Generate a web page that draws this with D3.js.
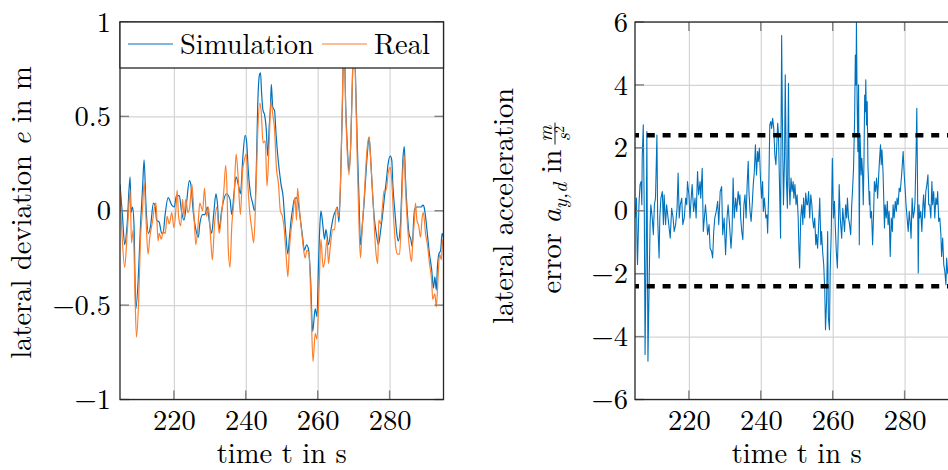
<!DOCTYPE html>
<html>
<head>
<meta charset="utf-8">
<script src="https://cdn.jsdelivr.net/npm/d3@7"></script>
<style>
  body { margin: 0; background: #fff; }
</style>
</head>
<body>
<div id="chart"></div>
<script>
// lateral deviation, simulation vs real (left panel)
const simT = [205.0,205.7,206.3,207.0,207.8,208.1,208.5,208.9,209.4,210.1,210.7,211.3,211.7,212.2,212.9,213.5,214.3,214.8,215.2,215.9,216.6,217.0,217.5,218.4,219.4,220.1,220.7,221.5,222.1,222.8,223.5,224.3,224.7,225.4,226.1,226.8,227.2,228.0,228.6,229.3,229.8,230.5,231.1,231.7,232.1,232.6,233.2,233.9,234.6,
  235.6,236.1,236.7,237.3,238.0,238.5,239.2,239.8,240.2,240.7,241.3,241.9,242.4,242.9,243.3,243.8,244.1,244.4,244.8,245.2,245.7,246.1,246.5,246.9,247.1,247.5,248.0,248.4,248.9,249.4,249.8,250.4,250.7,251.2,251.7,252.1,252.6,253.1,253.5,254.1,254.6,255.2,255.8,256.3,256.9,257.4,258.0,258.6,259.3,259.8,260.2,260.6,260.9,261.4,261.9,262.3,263.0,263.7,264.4,
  265.0,265.5,265.9,266.4,266.9,267.3,267.8,268.2,268.7,269.2,269.6,270.1,270.6,271.0,271.5,271.9,272.4,272.9,273.3,273.8,274.3,274.7,275.2,275.7,276.3,276.9,277.4,278.0,278.5,279.1,279.6,280.2,280.6,280.9,281.5,282.0,282.4,283.0,283.3,283.7,284.1,284.4,284.9,285.4,285.9,286.3,286.7,287.0,287.6,288.1,288.7,289.3,289.6,290.0,290.6,291.1,291.7,292.2,292.6,293.0,293.3,293.7,294.2,294.6,295.2];
const simE = [0.14,-0.03,-0.18,-0.07,0.18,-0.01,0.02,-0.08,-0.52,-0.35,-0.08,0.13,0.27,0.04,-0.12,-0.08,0.04,0.02,-0.05,-0.06,-0.12,-0.12,-0.03,0.07,0.03,0.02,0.08,0.08,0.00,-0.05,0.04,0.16,0.14,-0.01,-0.10,-0.14,-0.07,-0.02,-0.02,0.02,-0.05,-0.12,-0.01,0.09,0.04,-0.10,-0.01,0.06,0.09,
  0.06,-0.02,0.09,0.18,0.13,0.09,0.29,0.40,0.37,0.21,0.09,0.04,0.00,0.20,0.55,0.72,0.73,0.62,0.53,0.51,0.43,0.29,0.44,0.57,0.67,0.55,0.53,0.41,0.29,0.20,0.14,0.07,-0.01,-0.14,-0.23,-0.15,-0.05,0.02,0.06,0.07,0.04,-0.05,-0.14,-0.21,-0.18,-0.20,-0.35,-0.64,-0.52,-0.56,-0.30,-0.08,0.00,-0.07,-0.15,-0.10,-0.18,-0.10,-0.03,
  0.00,0.02,-0.06,0.18,0.58,0.95,0.55,0.36,0.21,0.36,0.65,0.95,0.65,0.36,0.06,-0.18,-0.08,0.04,0.16,0.30,0.39,0.29,0.11,-0.03,-0.12,-0.18,-0.12,-0.03,0.06,0.16,0.25,0.29,0.27,0.14,-0.01,-0.12,-0.16,-0.08,0.06,0.27,0.34,0.18,0.00,-0.12,-0.15,-0.19,-0.05,0.01,0.02,0.02,0.02,0.03,0.02,-0.03,-0.14,-0.23,-0.31,-0.41,-0.35,-0.42,-0.30,-0.23,-0.21,-0.12,-0.17];

const realT = [205.0,205.6,206.3,206.9,207.4,207.8,208.2,208.7,209.2,209.6,210.2,210.7,211.3,211.7,212.2,212.8,213.3,214.1,214.6,215.0,215.6,215.9,216.5,217.0,217.6,218.1,218.7,219.4,220.0,220.6,220.9,221.3,221.9,222.4,222.8,223.3,223.9,224.4,225.0,225.6,226.1,226.7,227.2,228.0,228.5,229.1,229.6,230.2,230.7,231.3,231.9,232.6,233.2,233.9,234.4,234.8,
  235.1,235.6,236.1,236.7,237.3,237.8,238.5,239.1,239.6,240.1,240.6,241.1,241.7,242.2,242.8,243.3,243.9,244.3,244.8,245.4,245.9,246.5,247.0,247.5,248.0,248.5,249.1,249.6,250.2,250.7,251.3,251.7,252.1,252.6,253.1,253.7,254.1,254.4,255.0,255.6,256.1,256.5,257.0,257.6,258.1,258.7,259.3,259.8,260.4,260.9,261.5,262.0,262.6,263.0,263.5,264.2,264.7,
  265.2,265.5,265.9,266.4,266.9,267.3,267.8,268.2,268.7,269.2,269.6,270.1,270.6,271.0,271.5,271.9,272.4,272.9,273.3,273.8,274.3,274.8,275.4,275.9,276.3,276.7,277.0,277.5,278.0,278.5,279.1,279.6,280.2,280.6,281.1,281.7,282.2,282.8,283.3,283.7,284.1,284.4,285.0,285.6,286.1,286.5,286.9,287.2,287.6,288.1,288.6,289.1,289.4,290.0,290.6,291.1,291.7,292.0,292.6,293.0,293.5,293.9,294.4,294.8,295.2];
const realE = [0.11,-0.14,-0.30,-0.15,0.00,0.11,-0.17,-0.10,-0.47,-0.67,-0.47,-0.15,0.02,0.15,-0.03,-0.23,-0.14,-0.05,0.02,0.04,-0.16,-0.12,-0.15,-0.11,-0.12,-0.03,-0.07,-0.01,-0.09,0.02,0.11,-0.03,-0.08,0.06,-0.03,0.06,-0.01,0.02,0.14,-0.03,-0.18,-0.08,0.04,0.00,0.12,-0.03,0.02,-0.14,-0.26,-0.07,0.02,-0.12,-0.03,0.11,0.24,0.09,
  -0.19,-0.30,-0.08,0.06,0.30,0.20,-0.02,0.21,0.27,0.30,0.13,-0.01,-0.10,-0.17,0.09,0.41,0.57,0.52,0.36,0.37,0.13,0.36,0.58,0.51,0.43,0.23,0.14,0.00,-0.03,-0.10,-0.26,-0.35,-0.21,-0.10,-0.03,0.07,-0.05,0.12,-0.01,-0.12,-0.21,-0.25,-0.21,-0.23,-0.47,-0.80,-0.65,-0.68,-0.40,-0.15,-0.30,-0.26,-0.15,-0.28,-0.19,-0.10,-0.10,
  0.02,0.00,-0.03,0.18,0.62,0.97,0.53,0.32,0.19,0.36,0.65,0.95,0.62,0.27,-0.08,-0.25,-0.08,0.06,0.20,0.34,0.39,0.25,0.06,-0.14,-0.24,-0.28,-0.05,-0.07,0.02,0.11,0.11,0.20,0.23,0.16,-0.03,-0.19,-0.23,-0.23,0.00,0.21,0.29,0.13,-0.08,-0.21,-0.27,-0.15,-0.05,0.04,-0.05,-0.08,-0.14,-0.03,-0.01,-0.12,-0.19,-0.28,-0.37,-0.47,-0.44,-0.51,-0.35,-0.23,-0.26,-0.15,-0.28];

// lateral acceleration error (right panel)
const accT = [205.0,205.4,205.6,205.7,206.1,206.4,206.7,206.9,207.0,207.3,207.6,207.8,208.1,208.3,208.6,208.9,209.2,209.4,209.8,210.1,210.4,210.7,211.1,211.3,211.7,211.9,212.2,212.6,212.9,213.1,213.5,213.8,214.1,214.4,214.8,215.2,215.6,215.9,216.3,216.7,217.0,217.3,217.6,218.0,218.3,218.7,219.1,219.4,219.6,220.0,220.3,220.6,220.9,221.3,221.7,222.0,222.4,222.7,223.1,223.3,223.7,224.0,224.3,224.6,224.9,225.2,225.6,225.9,226.3,226.6,226.9,227.2,227.6,228.0,228.3,228.7,229.1,229.4,229.8,230.2,230.6,230.9,231.3,231.7,232.0,232.3,232.6,233.0,233.3,233.7,234.1,
  234.2,234.4,234.7,235.0,235.3,235.6,235.9,236.2,236.5,236.7,237.0,237.3,237.6,237.9,238.2,238.5,238.8,239.1,239.3,239.6,239.9,240.2,240.5,240.7,241.0,241.4,241.7,241.9,242.2,242.5,242.8,243.0,243.3,243.6,243.9,244.2,244.4,244.7,244.9,245.2,245.5,245.6,245.8,246.0,246.3,246.6,246.8,247.1,247.4,247.7,247.9,248.1,248.4,248.7,249.0,249.2,249.5,249.8,250.1,250.4,250.6,250.8,251.1,251.4,251.7,251.9,252.2,252.5,252.8,253.0,253.3,253.6,253.9,254.2,254.4,254.7,255.0,255.3,255.5,255.8,256.1,256.4,256.7,256.9,257.2,257.5,257.8,258.0,258.3,258.6,258.8,259.1,259.3,259.6,259.9,260.2,260.5,260.7,261.0,261.3,261.6,261.8,262.1,262.5,
  262.8,263.0,263.3,263.6,263.9,264.1,264.4,264.7,265.0,265.3,265.5,265.8,266.1,266.3,266.5,266.6,266.8,267.0,267.2,267.4,267.6,267.8,267.9,268.1,268.3,268.5,268.7,268.9,269.1,269.2,269.4,269.6,269.8,270.0,270.2,270.3,270.5,270.8,271.1,271.4,271.6,271.9,272.2,272.5,272.8,273.0,273.3,273.5,273.7,274.0,274.2,274.4,274.6,274.9,275.2,275.4,275.7,276.0,276.3,276.6,276.8,277.1,277.4,277.7,277.9,278.2,278.5,278.8,279.1,279.3,279.6,279.9,280.2,280.4,280.7,281.0,281.3,281.6,281.8,282.1,282.4,282.7,282.9,283.2,283.4,283.6,283.8,284.0,284.2,284.5,284.8,285.1,285.3,285.6,285.9,286.2,286.5,286.7,287.0,287.3,287.6,287.8,288.1,288.4,288.7,289.0,289.2,289.5,289.8,290.1,290.3,290.6,290.9,291.2,291.5,291.7,292.0];
const accErr = [-0.23,0.40,-1.29,-1.71,0.19,0.83,0.93,0.19,1.67,2.73,-0.23,-4.57,-1.29,2.52,-4.78,-2.56,-0.44,0.19,-0.23,-0.76,0.19,0.40,2.41,-0.23,-1.50,-0.23,0.40,0.61,-0.44,0.51,-0.44,0.19,-0.13,-0.44,-0.87,0.08,-0.23,-0.66,-0.44,0.08,1.20,-0.23,0.19,0.40,-0.44,-0.23,0.40,0.19,0.93,0.51,-0.23,0.35,0.83,-0.02,0.40,-0.23,1.25,0.51,0.93,0.40,1.35,-0.66,-0.23,0.19,-0.23,-0.76,-0.44,-1.19,-1.29,-1.50,-0.66,-0.23,-0.02,0.30,-0.44,0.61,0.77,-0.76,-0.23,-1.40,-0.23,0.19,-0.44,-1.19,-0.66,1.04,-0.23,0.40,-0.02,0.61,0.19,
  0.51,-0.23,-0.66,-0.92,0.19,0.51,-0.23,0.83,1.57,0.61,-0.02,-0.34,0.19,0.83,1.25,2.10,1.14,1.88,1.57,1.99,1.04,0.40,0.93,-0.02,0.40,-0.23,-0.13,-0.71,0.61,2.73,2.84,2.62,2.94,2.62,1.78,1.46,1.99,2.78,2.47,0.83,-0.87,1.88,5.57,2.94,0.19,1.67,4.32,1.04,0.08,4.05,0.83,0.19,1.04,0.61,0.93,0.40,0.83,0.19,0.51,-0.23,-1.19,-1.82,-0.23,0.19,-0.44,0.40,-0.23,0.56,0.19,0.19,0.61,-0.23,0.51,0.19,-0.23,-0.55,-0.23,-1.08,-0.76,-1.19,-0.44,0.40,-1.08,-0.66,-1.29,-1.71,-2.56,-3.78,-2.88,-0.66,-3.41,-3.78,-1.93,-0.66,1.67,-0.23,0.30,-0.44,-1.29,-1.82,-0.44,0.83,-0.23,-0.87,
  0.08,-0.23,-0.66,0.19,-0.23,0.40,-0.23,-0.44,-0.76,0.19,0.61,1.35,2.94,4.95,4.00,6.00,3.47,1.88,4.00,-1.08,2.41,1.67,1.14,1.67,1.25,0.19,1.57,3.68,3.15,4.16,2.73,3.47,1.46,0.83,0.19,0.61,-0.23,-0.02,-1.08,-0.02,0.93,0.61,1.04,0.40,1.14,1.57,2.10,1.46,1.94,1.25,0.40,-0.55,0.19,-0.23,0.30,-0.44,-0.02,-1.45,-0.23,-0.66,0.19,-0.23,0.30,-0.02,0.40,0.19,0.72,0.61,1.04,1.35,1.88,1.14,0.61,0.19,-0.23,-0.66,-0.02,-0.44,-0.87,0.40,-0.23,-0.02,0.30,1.88,3.26,0.83,-1.98,0.19,-0.23,-0.02,-0.66,0.19,0.51,-0.23,0.61,0.83,1.14,0.19,0.19,-0.23,0.93,0.19,0.61,-0.23,0.40,0.19,0.61,-0.34,-0.23,-0.76,-1.45,-0.87,-1.71,-1.93,-2.35,-1.50,-2.00];
const accLimit = 2.4;

const xTicks = [220, 240, 260, 280];
const yTicksLeft = [-1, -0.5, 0, 0.5, 1];
const yTicksRight = [-6, -4, -2, 0, 2, 4, 6];

const width = 948, height = 470;
const font = "Latin Modern Roman";
const fontSize = 28.5;
const blue = "#0072bd", orange = "#fd7f2d";

const svg = d3.select("#chart").append("svg")
    .attr("width", width)
    .attr("height", height);

svg.append("rect").attr("width", width).attr("height", height).attr("fill", "#fff");

// builds one axes box: clip, grid
function makePanel(id, left, yDomain, yTicks) {
    const top = 22, bottom = 399.5, w = 323.5;
    const x = d3.scaleLinear().domain([205, 295]).range([left, left + w]);
    const y = d3.scaleLinear().domain(yDomain).range([bottom, top]);
    const g = svg.append("g");

    svg.append("clipPath").attr("id", id)
        .append("rect").attr("x", left).attr("y", top).attr("width", w).attr("height", bottom - top);

    g.append("g")
        .attr("transform", `translate(0,${bottom})`)
        .call(d3.axisBottom(x).tickValues(xTicks).tickSize(-(bottom - top)).tickFormat(""))
        .call(a => a.select(".domain").remove())
        .call(a => a.selectAll("line").attr("stroke", "#d4d4d4").attr("stroke-width", 1.2));
    g.append("g")
        .attr("transform", `translate(${left},0)`)
        .call(d3.axisLeft(y).tickValues(yTicks).tickSize(-w).tickFormat(""))
        .call(a => a.select(".domain").remove())
        .call(a => a.selectAll("line").attr("stroke", "#d4d4d4").attr("stroke-width", 1.2));

    return { x, y, g, top, bottom, left, w };
}

// frame, inner ticks, tick labels
function finishPanel(p, yTicks, yPad) {
    const { x, y, g, top, bottom, left, w } = p;
    const tickLen = 9;
    const tk = g.append("g").attr("stroke", "#808080").attr("stroke-width", 1.4);
    xTicks.forEach(t => {
        tk.append("line").attr("x1", x(t)).attr("x2", x(t)).attr("y1", bottom).attr("y2", bottom - tickLen);
        tk.append("line").attr("x1", x(t)).attr("x2", x(t)).attr("y1", top).attr("y2", top + tickLen);
    });
    yTicks.forEach(v => {
        tk.append("line").attr("x1", left).attr("x2", left + tickLen).attr("y1", y(v)).attr("y2", y(v));
        tk.append("line").attr("x1", left + w).attr("x2", left + w - tickLen).attr("y1", y(v)).attr("y2", y(v));
    });

    g.append("rect")
        .attr("x", left).attr("y", top).attr("width", w).attr("height", bottom - top)
        .attr("fill", "none").attr("stroke", "#262626").attr("stroke-width", 1.3);

    g.append("g")
        .attr("transform", `translate(0,${bottom})`)
        .call(d3.axisBottom(x).tickValues(xTicks).tickSize(0).tickPadding(10).tickFormat(d3.format("d")))
        .call(a => a.select(".domain").remove())
        .call(a => a.selectAll("text").attr("font-size", fontSize).attr("font-family", font).attr("fill", "#000"));
    g.append("g")
        .attr("transform", `translate(${left},0)`)
        .call(d3.axisLeft(y).tickValues(yTicks).tickSize(0).tickPadding(yPad).tickFormat(d3.format("~g")))
        .call(a => a.select(".domain").remove())
        .call(a => a.selectAll("text").attr("font-size", fontSize).attr("font-family", font).attr("fill", "#000"));
}

// ---- left panel ----
const pL = makePanel("clipL", 120, [-1, 1], yTicksLeft);
const lineL = d3.line().x(d => pL.x(d[0])).y(d => pL.y(d[1])).curve(d3.curveMonotoneX);
pL.g.append("path")
    .datum(simT.map((t, i) => [t, simE[i]]))
    .attr("clip-path", "url(#clipL)")
    .attr("fill", "none").attr("stroke", blue).attr("stroke-width", 1.2)
    .attr("d", lineL);
pL.g.append("path")
    .datum(realT.map((t, i) => [t, realE[i]]))
    .attr("clip-path", "url(#clipL)")
    .attr("fill", "none").attr("stroke", orange).attr("stroke-width", 1.2)
    .attr("d", lineL);
finishPanel(pL, yTicksLeft, 9);

// legend
const lg = svg.append("g");
lg.append("rect").attr("x", 120).attr("y", 22).attr("width", 323.5).attr("height", 46)
    .attr("fill", "#fff").attr("stroke", "#262626").attr("stroke-width", 1.3);
[["Simulation", blue, 128], ["Real", orange, 322]].forEach(([name, c, x0]) => {
    lg.append("line").attr("x1", x0).attr("x2", x0 + 45).attr("y1", 44).attr("y2", 44)
        .attr("stroke", c).attr("stroke-width", 1.2);
    lg.append("text").attr("x", x0 + 52).attr("y", 53.5)
        .attr("font-family", font).attr("font-size", fontSize).text(name);
});

// ---- right panel ----
const pR = makePanel("clipR", 635, [-6, 6], yTicksRight);
const lineR = d3.line().x(d => pR.x(d[0])).y(d => pR.y(d[1]));
pR.g.append("path")
    .datum(accT.map((t, i) => [t, accErr[i]]))
    .attr("clip-path", "url(#clipR)")
    .attr("fill", "none").attr("stroke", blue).attr("stroke-width", 1.1)
    .attr("stroke-linejoin", "round")
    .attr("d", lineR);
[accLimit, -accLimit].forEach(v => {
    pR.g.append("line")
        .attr("x1", pR.x(205)).attr("x2", pR.x(295)).attr("y1", pR.y(v)).attr("y2", pR.y(v))
        .attr("stroke", "#000").attr("stroke-width", 4.6)
        .attr("stroke-dasharray", "8 7.8").attr("stroke-dashoffset", 4);
});
finishPanel(pR, yTicksRight, 7);

// ---- axis labels ----
[pL, pR].forEach(p => {
    svg.append("text")
        .attr("x", p.left + p.w / 2).attr("y", 463)
        .attr("text-anchor", "middle")
        .attr("font-family", font).attr("font-size", fontSize)
        .text("time t in s");
});

const yl = svg.append("text")
    .attr("transform", "translate(31,212.5) rotate(-90)")
    .attr("text-anchor", "middle")
    .attr("font-family", font).attr("font-size", fontSize);
yl.append("tspan").text("lateral deviation ");
yl.append("tspan").attr("font-style", "italic").text("e");
yl.append("tspan").text(" in m");

const yr = svg.append("g").attr("transform", "translate(561,208) rotate(-90)")
    .attr("font-family", font);
yr.append("text")
    .attr("x", 2).attr("y", -48)
    .attr("text-anchor", "middle").attr("font-size", fontSize)
    .text("lateral acceleration");
const l2 = yr.append("text").attr("y", 0).attr("font-size", fontSize);
l2.append("tspan").text("error ");
l2.append("tspan").attr("font-style", "italic").text("a");
l2.append("tspan").attr("font-style", "italic").attr("font-size", 20).attr("dy", 6).text("y,d");
l2.append("tspan").attr("dy", -6).text(" in");
const l2len = l2.node().getComputedTextLength();
const fracW = 22;
const start = -(l2len + 5 + fracW) / 2;
l2.attr("x", start);
const fx = start + l2len + 5 + fracW / 2;
yr.append("text").attr("x", fx).attr("y", -9.5)
    .attr("text-anchor", "middle").attr("font-size", 20).attr("font-style", "italic").text("m");
yr.append("line").attr("x1", fx - fracW / 2).attr("x2", fx + fracW / 2).attr("y1", -6).attr("y2", -6)
    .attr("stroke", "#000").attr("stroke-width", 0.9);
const frac = yr.append("text").attr("x", fx).attr("y", 8.5)
    .attr("text-anchor", "middle").attr("font-size", 20).attr("font-style", "italic");
frac.append("tspan").text("s");
frac.append("tspan").attr("font-size", 14).attr("dy", -6).attr("font-style", "normal").text("2");
</script>
</body>
</html>
